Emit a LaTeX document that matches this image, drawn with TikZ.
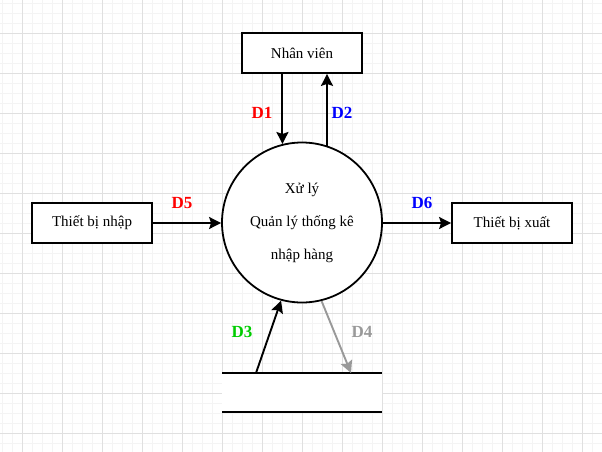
\documentclass[tikz,border=0pt]{standalone}
\usepackage{fontspec}
\setmainfont{Liberation Serif}
\usetikzlibrary{arrows.meta}

\definecolor{gridmajor}{HTML}{E0E0E0}
\definecolor{gridminor}{HTML}{F4F4F4}
\definecolor{ddgreen}{HTML}{00CC00}
\definecolor{ddgrey}{HTML}{999999}

\begin{document}
\begin{tikzpicture}[x=1pt,y=-1pt,
	box/.style={draw,line width=1.8pt,fill=white,minimum width=120pt,minimum height=40pt,font=\fontsize{15}{17}\selectfont},
	proc/.style={draw,circle,line width=1.8pt,fill=white,minimum size=160pt,align=center,font=\fontsize{15}{17}\selectfont},
	flow/.style={line width=1.9pt,-{Stealth[length=12pt,width=12pt,inset=2pt]}},
	dlabel/.style={font=\fontsize{17}{19}\selectfont\bfseries}]
		\useasboundingbox (0,0) rectangle (602,452);
		% Raster
		\foreach \x in {2,12,...,602} \draw[gridminor,line width=0.8pt] (\x,0) -- (\x,452);
		\foreach \y in {3,13,...,452} \draw[gridminor,line width=0.8pt] (0,\y) -- (602,\y);
		\foreach \x in {22,62,...,602} \draw[gridmajor,line width=0.8pt] (\x,0) -- (\x,452);
		\foreach \y in {33,73,...,452} \draw[gridmajor,line width=0.8pt] (0,\y) -- (602,\y);
		% Knoten
		\node[box] (nv) at (302,53) {Nhân viên};
		\node[box] (tbn) at (92,223) {Thiết bị nhập};
		\node[box] (tbx) at (512,223) {Thiết bị xuất};
		\node[proc] (xl) at (302,222.5) {Xử lý\\[16pt]Quản lý thống kê\\[16pt]nhập hàng};
		% Datenspeicher
		\fill[white] (222,373) rectangle (382,412);
		\coordinate (st1) at (222,373);
		\coordinate (st2) at (382,373);
		\coordinate (st3) at (222,412);
		\coordinate (st4) at (382,412);
		\draw[line width=1.8pt] (st1) -- (st2);
		\draw[line width=1.8pt] (st3) -- (st4);
		\coordinate (d3a) at (256,373);
		\coordinate (d4b) at (351,373);
		% Pfeile
		\draw[flow] (nv.south -| xl.104.5) -- (xl.104.5);
		\draw[flow] (xl.72.5) -- (nv.south -| xl.72.5);
		\draw[flow] (d3a) -- (xl.255.5);
		\draw[flow,ddgrey] (xl.284.5) -- (d4b);
		\draw[flow] (tbn.east) -- (tbn.east -| xl.west);
		\draw[flow] (tbx.west -| xl.east) -- (tbx.west);
		% Beschriftung
		\node[dlabel,red] (l1) at (262,113) {D1};
		\node[dlabel,blue] (l2) at (342,113) {D2};
		\node[dlabel,ddgreen] (l3) at (242,332) {D3};
		\node[dlabel,ddgrey] (l4) at (362,332) {D4};
		\node[dlabel,red] (l5) at (182,203) {D5};
		\node[dlabel,blue] (l6) at (422,203) {D6};
	\end{tikzpicture}
\end{document}
